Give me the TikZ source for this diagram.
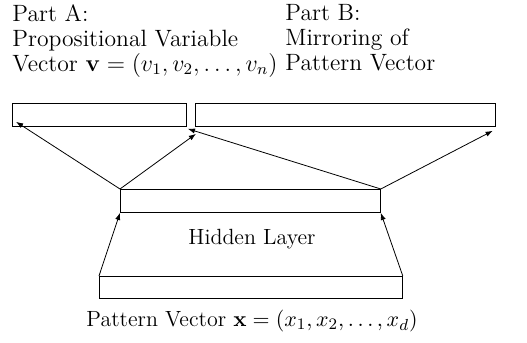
\documentclass[tikz,border=0pt]{standalone}
\usetikzlibrary{arrows.meta}
\tikzset{
  layerbox/.style={draw, thin, rectangle, inner sep=0pt, anchor=north west},
  parttext/.style={anchor=north west, align=left, inner sep=0pt, font=\fontsize{11.8}{12.5}\selectfont},
  layertext/.style={inner sep=0pt, font=\fontsize{11}{13}\selectfont},
  link/.style={-{Latex[length=3.6pt,width=2.6pt]}, thin}
}
\begin{document}
\begin{tikzpicture}[x=0.5pt, y=-0.5pt]
\useasboundingbox (0,0) rectangle (527,343);

% the layers
\node[layerbox, minimum width=87pt, minimum height=11.5pt] (partA) at (12,103) {};
\node[layerbox, minimum width=150pt, minimum height=11.5pt] (partB) at (195,103) {};
\node[layerbox, minimum width=130pt, minimum height=11.5pt] (hidden) at (120,189) {};
\node[layerbox, minimum width=151.5pt, minimum height=11pt] (pattern) at (99,276) {};

% labels
\node[parttext] (labA) at (12,4) {Part A:\\Propositional Variable\\Vector $\mathbf{v}=(v_1,v_2,\ldots,v_n)$};
\node[parttext] (labB) at (285,4) {Part B:\\Mirroring of\\Pattern Vector};
\node[layertext] (labH) at (252,239) {Hidden Layer};
\node[layertext] (labP) at (252,321) {Pattern Vector $\mathbf{x}=(x_1,x_2,\ldots,x_d)$};

% connections
\draw[link] (pattern.north west) -- (hidden.south west);
\draw[link] (pattern.north east) -- (hidden.south east);
\draw[link] (hidden.north west) -- ([shift={(4,-5)}]partA.south west);
\draw[link] (hidden.north west) -- ([shift={(1,7)}]partB.south west);
\draw[link] (hidden.north east) -- ([shift={(1,2)}]partA.south east);
\draw[link] (hidden.north east) -- ([shift={(-3,4)}]partB.south east);
\end{tikzpicture}
\end{document}
